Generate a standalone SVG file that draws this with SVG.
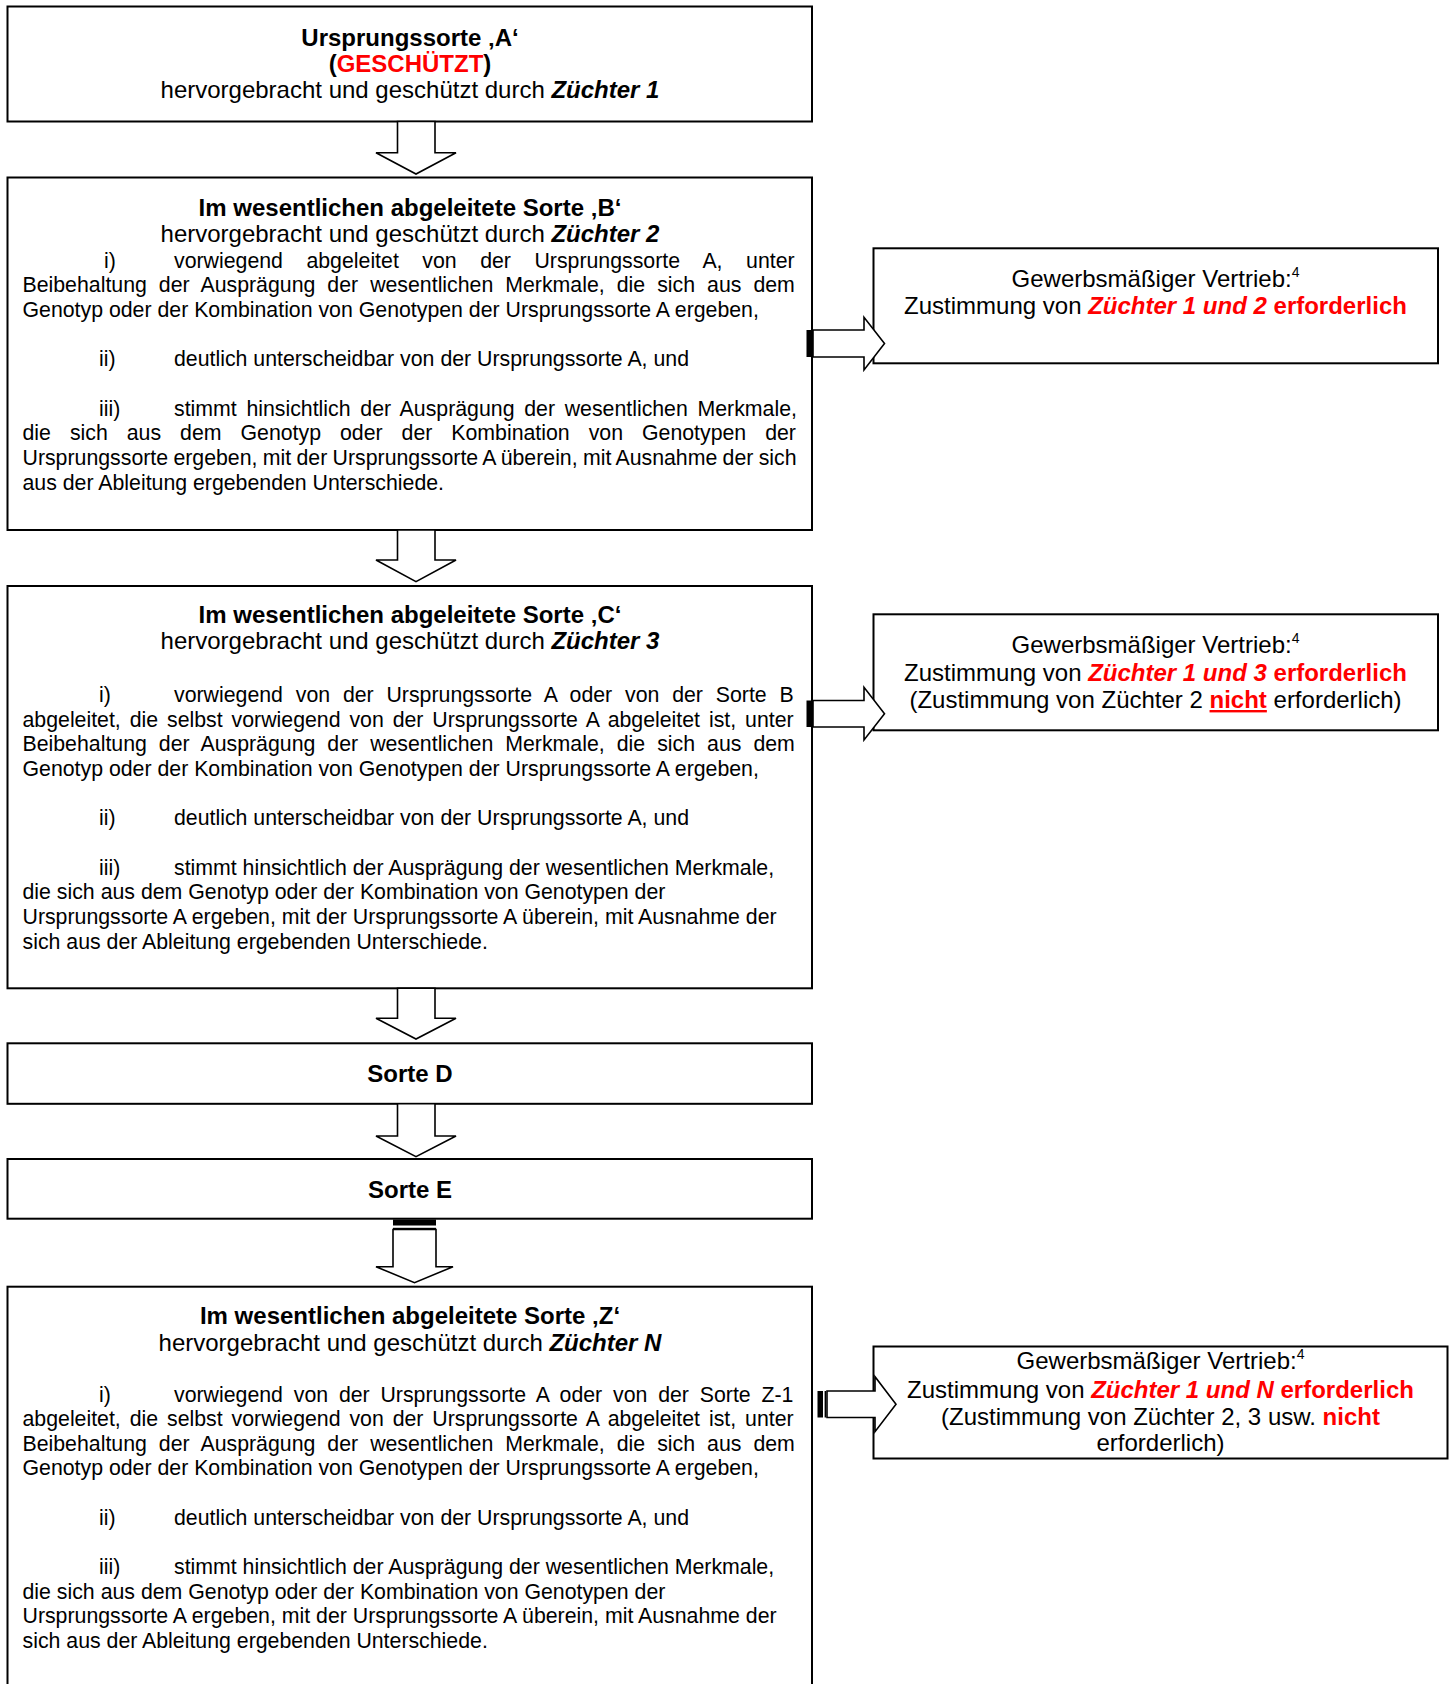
<svg xmlns="http://www.w3.org/2000/svg" width="1449" height="1684" viewBox="0 0 1449 1684">
<style>
text{font-family:"Liberation Sans",Arial,sans-serif;fill:#000}
.h{font-size:24px}
.s{font-size:21.3px}
.b{font-weight:bold}
.bi{font-weight:bold;font-style:italic}
.r{fill:#FF0000}
.box{fill:#fff;stroke:#000;stroke-width:2}
.arr{fill:#fff;stroke:#000;stroke-width:1.6;stroke-linejoin:miter}
.bar{fill:#000}
.mid{text-anchor:middle}
</style>
<rect width="1449" height="1684" fill="#fff"/>

<g id="node-a">
  <rect class="box" x="7.5" y="6.5" width="804.5" height="115"/>
  <text class="h b mid" x="410" y="45.5">Ursprungssorte ‚A‘</text>
  <text class="h b mid" x="410" y="72">(<tspan class="r">GESCHÜTZT</tspan>)</text>
  <text class="h mid" x="410" y="98">hervorgebracht und geschützt durch <tspan class="bi">Züchter 1</tspan></text>
</g>

<g id="node-b">
  <rect class="box" x="7.5" y="177.5" width="804.5" height="352.5"/>
  <text class="h b mid" x="410" y="215.7">Im wesentlichen abgeleitete Sorte ‚B‘</text>
  <text class="h mid" x="410" y="241.7">hervorgebracht und geschützt durch <tspan class="bi">Züchter 2</tspan></text>
  <text class="s" x="104" y="267.7">i)</text>
  <text class="s" x="174" y="267.7" word-spacing="17.6">vorwiegend abgeleitet von der Ursprungssorte A, unter</text>
  <text class="s" x="22.5" y="292.35" word-spacing="6.1">Beibehaltung der Ausprägung der wesentlichen Merkmale, die sich aus dem</text>
  <text class="s" x="22.5" y="317">Genotyp oder der Kombination von Genotypen der Ursprungssorte A ergeben,</text>
  <text class="s" x="99" y="366.3">ii)</text>
  <text class="s" x="174" y="366.3">deutlich unterscheidbar von der Ursprungssorte A, und</text>
  <text class="s" x="99" y="415.6">iii)</text>
  <text class="s" x="174" y="415.6" word-spacing="3.8">stimmt hinsichtlich der Ausprägung der wesentlichen Merkmale,</text>
  <text class="s" x="22.5" y="440.25" word-spacing="13.06">die sich aus dem Genotyp oder der Kombination von Genotypen der</text>
  <text class="s" x="22.5" y="464.9" word-spacing="-0.6">Ursprungssorte ergeben, mit der Ursprungssorte A überein, mit Ausnahme der sich</text>
  <text class="s" x="22.5" y="489.55">aus der Ableitung ergebenden Unterschiede.</text>
</g>

<g id="node-c">
  <rect class="box" x="7.5" y="586" width="804.5" height="402.3"/>
  <text class="h b mid" x="410" y="622.5">Im wesentlichen abgeleitete Sorte ‚C‘</text>
  <text class="h mid" x="410" y="649">hervorgebracht und geschützt durch <tspan class="bi">Züchter 3</tspan></text>
  <text class="s" x="99" y="702">i)</text>
  <text class="s" x="174" y="702" word-spacing="6.9">vorwiegend von der Ursprungssorte A oder von der Sorte B</text>
  <text class="s" x="22.5" y="726.65" word-spacing="3.0">abgeleitet, die selbst vorwiegend von der Ursprungssorte A abgeleitet ist, unter</text>
  <text class="s" x="22.5" y="751.3" word-spacing="6.1">Beibehaltung der Ausprägung der wesentlichen Merkmale, die sich aus dem</text>
  <text class="s" x="22.5" y="775.95">Genotyp oder der Kombination von Genotypen der Ursprungssorte A ergeben,</text>
  <text class="s" x="99" y="825.25">ii)</text>
  <text class="s" x="174" y="825.25">deutlich unterscheidbar von der Ursprungssorte A, und</text>
  <text class="s" x="99" y="874.55">iii)</text>
  <text class="s" x="174" y="874.55">stimmt hinsichtlich der Ausprägung der wesentlichen Merkmale,</text>
  <text class="s" x="22.5" y="899.2">die sich aus dem Genotyp oder der Kombination von Genotypen der</text>
  <text class="s" x="22.5" y="923.85">Ursprungssorte A ergeben, mit der Ursprungssorte A überein, mit Ausnahme der</text>
  <text class="s" x="22.5" y="948.5">sich aus der Ableitung ergebenden Unterschiede.</text>
</g>

<g id="node-d">
  <rect class="box" x="7.5" y="1043.3" width="804.5" height="60.5"/>
  <text class="h b mid" x="410" y="1081.7">Sorte D</text>
</g>

<g id="node-e">
  <rect class="box" x="7.5" y="1159" width="804.5" height="59.7"/>
  <text class="h b mid" x="410" y="1198.3">Sorte E</text>
</g>

<g id="node-z">
  <rect class="box" x="7.5" y="1286.7" width="804.5" height="420"/>
  <text class="h b mid" x="410" y="1323.5">Im wesentlichen abgeleitete Sorte ‚Z‘</text>
  <text class="h mid" x="410" y="1350.5">hervorgebracht und geschützt durch <tspan class="bi">Züchter N</tspan></text>
  <text class="s" x="99" y="1401.5">i)</text>
  <text class="s" x="174" y="1401.5" word-spacing="4.9">vorwiegend von der Ursprungssorte A oder von der Sorte Z-1</text>
  <text class="s" x="22.5" y="1426.15" word-spacing="3.0">abgeleitet, die selbst vorwiegend von der Ursprungssorte A abgeleitet ist, unter</text>
  <text class="s" x="22.5" y="1450.8" word-spacing="6.1">Beibehaltung der Ausprägung der wesentlichen Merkmale, die sich aus dem</text>
  <text class="s" x="22.5" y="1475.45">Genotyp oder der Kombination von Genotypen der Ursprungssorte A ergeben,</text>
  <text class="s" x="99" y="1524.75">ii)</text>
  <text class="s" x="174" y="1524.75">deutlich unterscheidbar von der Ursprungssorte A, und</text>
  <text class="s" x="99" y="1574.05">iii)</text>
  <text class="s" x="174" y="1574.05">stimmt hinsichtlich der Ausprägung der wesentlichen Merkmale,</text>
  <text class="s" x="22.5" y="1598.7">die sich aus dem Genotyp oder der Kombination von Genotypen der</text>
  <text class="s" x="22.5" y="1623.35">Ursprungssorte A ergeben, mit der Ursprungssorte A überein, mit Ausnahme der</text>
  <text class="s" x="22.5" y="1648">sich aus der Ableitung ergebenden Unterschiede.</text>
</g>

<g id="node-r1">
  <rect class="box" x="873.5" y="248.3" width="564.5" height="115"/>
  <text class="h mid" x="1155.5" y="287">Gewerbsmäßiger Vertrieb:<tspan font-size="14" dy="-10">4</tspan></text>
  <text class="h mid" x="1155.5" y="314">Zustimmung von <tspan class="bi r">Züchter 1 und 2</tspan><tspan class="b r"> erforderlich</tspan></text>
</g>

<g id="node-r2">
  <rect class="box" x="873.5" y="614.3" width="564.5" height="116"/>
  <text class="h mid" x="1155.5" y="652.5">Gewerbsmäßiger Vertrieb:<tspan font-size="14" dy="-10">4</tspan></text>
  <text class="h mid" x="1155.5" y="680.5">Zustimmung von <tspan class="bi r">Züchter 1 und 3</tspan><tspan class="b r"> erforderlich</tspan></text>
  <text class="h mid" x="1155.5" y="708">(Zustimmung von Züchter 2 <tspan class="b r" text-decoration="underline">nicht</tspan> erforderlich)</text>
</g>

<g id="node-r3">
  <rect class="box" x="873.5" y="1346.5" width="574" height="112"/>
  <text class="h mid" x="1160.5" y="1368.5">Gewerbsmäßiger Vertrieb:<tspan font-size="14" dy="-10">4</tspan></text>
  <text class="h mid" x="1160.5" y="1397.5">Zustimmung von <tspan class="bi r">Züchter 1 und N</tspan><tspan class="b r"> erforderlich</tspan></text>
  <text class="h mid" x="1160.5" y="1425">(Zustimmung von Züchter 2, 3 usw. <tspan class="b r">nicht</tspan></text>
  <text class="h mid" x="1160.5" y="1451">erforderlich)</text>
</g>

<g id="connectors">
  <polygon class="arr" points="397.5,121.5 435,121.5 435,152.7 456,152.7 416,174 376,152.7 397.5,152.7"/>
  <polygon class="arr" points="397.5,530 435,530 435,560 456,560 416,581.7 376,560 397.5,560"/>
  <polygon class="arr" points="397.5,988.3 435,988.3 435,1018.3 456,1018.3 416,1039 376,1018.3 397.5,1018.3"/>
  <polygon class="arr" points="397.5,1103.8 435,1103.8 435,1136 456,1136 416,1156.7 376,1136 397.5,1136"/>
  <rect class="bar" x="393" y="1219.5" width="43" height="6"/>
  <rect class="bar" x="393" y="1227.8" width="43" height="1.6"/>
  <polygon class="arr" points="393,1229.5 436,1229.5 436,1266.7 453,1266.7 414.5,1282.7 376,1266.7 393,1266.7"/>
  <rect class="bar" x="806.5" y="330" width="5" height="27"/>
  <polygon class="arr" points="813,330 864,330 864,317.3 884.5,343.5 864,370 864,357 813,357"/>
  <rect class="bar" x="806.5" y="700.5" width="5" height="26.5"/>
  <polygon class="arr" points="813,700.5 864,700.5 864,687.3 884.5,713.7 864,740 864,727 813,727"/>
  <rect class="bar" x="817.5" y="1391" width="5.5" height="26.5"/>
  <rect class="bar" x="824.6" y="1391" width="1.6" height="26.5"/>
  <polygon class="arr" points="827,1391 875,1391 875,1376.7 896,1404.2 875,1431.7 875,1417.5 827,1417.5"/>
</g>
</svg>
